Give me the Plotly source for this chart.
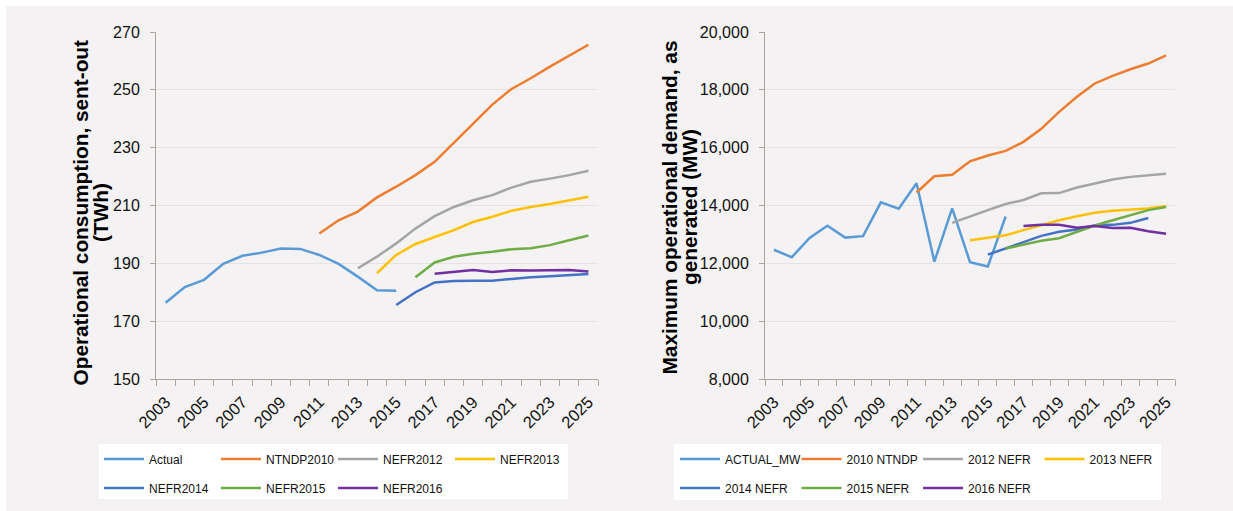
import plotly.graph_objects as go

W, H = 1233, 511

# ---------------- data (left: operational consumption, TWh) ----------------
twh_names = ["Actual", "NTNDP2010", "NEFR2012", "NEFR2013", "NEFR2014", "NEFR2015", "NEFR2016"]
twh_start = [2003, 2011, 2013, 2014, 2015, 2016, 2017]
twh_actual = [176.4, 181.8, 184.3, 189.8, 192.6, 193.7, 195.1, 195.0, 192.9, 189.8, 185.4, 180.7, 180.5]
twh_ntndp2010 = [200.3, 204.9, 207.9, 212.8, 216.5, 220.5, 225.1, 231.8, 238.4, 244.9, 250.3, 254.0, 258.0, 261.8, 265.6]
twh_nefr2012 = [188.3, 192.3, 196.9, 202.0, 206.3, 209.5, 211.8, 213.6, 216.2, 218.2, 219.3, 220.5, 222.0]
twh_nefr2013 = [186.6, 192.9, 196.7, 199.2, 201.5, 204.3, 206.1, 208.2, 209.5, 210.5, 211.8, 213.0]
twh_nefr2014 = [175.6, 180.0, 183.4, 183.9, 184.0, 184.0, 184.6, 185.2, 185.5, 186.0, 186.3]
twh_nefr2015 = [185.2, 190.3, 192.3, 193.3, 194.0, 194.9, 195.2, 196.3, 198.0, 199.6]
twh_nefr2016 = [186.4, 187.0, 187.7, 187.0, 187.6, 187.5, 187.6, 187.7, 187.2]
twh_values = [twh_actual, twh_ntndp2010, twh_nefr2012, twh_nefr2013, twh_nefr2014, twh_nefr2015, twh_nefr2016]
twh_title = ["Operational consumption, sent-out", "(TWh)"]

# ---------------- data (right: maximum operational demand, MW) ----------------
mw_names = ["ACTUAL_MW", "2010 NTNDP", "2012 NEFR", "2013 NEFR", "2014 NEFR", "2015 NEFR", "2016 NEFR"]
mw_start = [2003, 2011, 2013, 2014, 2015, 2016, 2017]
mw_actual = [12470, 12210, 12880, 13300, 12890, 12940, 14110, 13890, 14770, 12060, 13900, 12040, 11890, 13620]
mw_ntndp2010 = [14450, 15010, 15060, 15530, 15730, 15890, 16200, 16650, 17240, 17760, 18220, 18480, 18710, 18910, 19190]
mw_nefr2012 = [13400, 13630, 13840, 14050, 14190, 14420, 14430, 14620, 14760, 14900, 14990, 15050, 15100]
mw_nefr2013 = [12800, 12880, 12970, 13150, 13330, 13490, 13630, 13750, 13820, 13860, 13900, 13980]
mw_nefr2014 = [12300, 12510, 12740, 12950, 13090, 13170, 13320, 13330, 13400, 13570]
mw_nefr2015 = [12510, 12650, 12780, 12870, 13090, 13310, 13490, 13670, 13840, 13950]
mw_nefr2016 = [13290, 13330, 13330, 13230, 13290, 13220, 13230, 13110, 13020]
mw_values = [mw_actual, mw_ntndp2010, mw_nefr2012, mw_nefr2013, mw_nefr2014, mw_nefr2015, mw_nefr2016]
mw_title = ["Maximum operational demand, as", "generated (MW)"]

colors = ["#5B9BD5", "#ED7D31", "#A5A5A5", "#FFC000", "#4472C4", "#70AD47", "#7030A0"]
label_years = list(range(2003, 2026, 2))

FONT = "Liberation Sans, Arial, sans-serif"
BG = "#F4F2F3"
AXC = "#ADA59C"
GRID = "#E6E3E0"


def fx(px):
    return px / W


def fy(py):
    return 1 - py / H


fig = go.Figure()

legends_left = ["legend", "legend", "legend", "legend", "legend2", "legend2", "legend2"]
legends_right = ["legend3", "legend3", "legend3", "legend3", "legend4", "legend4", "legend4"]

for name, start, vals, col, lg in zip(twh_names, twh_start, twh_values, colors, legends_left):
    fig.add_trace(go.Scatter(
        x=list(range(start, start + len(vals))), y=vals, name=name, mode="lines",
        line=dict(color=col, width=2.5), xaxis="x", yaxis="y", legend=lg))

for name, start, vals, col, lg in zip(mw_names, mw_start, mw_values, colors, legends_right):
    fig.add_trace(go.Scatter(
        x=list(range(start, start + len(vals))), y=vals, name=name, mode="lines",
        line=dict(color=col, width=2.5), xaxis="x2", yaxis="y2", legend=lg))

ydom = [fy(379), fy(32)]

xcommon = dict(
    range=[2002.5, 2025.5], tickvals=label_years, ticktext=[str(y) for y in label_years],
    tickangle=-45, ticks="", showgrid=False, zeroline=False,
    showline=True, linecolor=AXC, linewidth=1,
    tickfont=dict(family=FONT, size=16.5, color="#111"),
    minor=dict(ticks="outside", tick0=2002.5, dtick=1, ticklen=6, tickcolor=AXC, tickwidth=1, showgrid=False),
    ticklabelstandoff=6, fixedrange=True,
)
ycommon = dict(
    showgrid=True, gridcolor=GRID, gridwidth=1, zeroline=False,
    showline=True, linecolor=AXC, linewidth=1, ticks="outside", ticklen=5, tickcolor=AXC,
    tickfont=dict(family=FONT, size=16, color="#111"), ticklabelstandoff=7, fixedrange=True,
    domain=ydom,
)

fig.update_layout(
    width=W, height=H, autosize=False,
    margin=dict(l=0, r=0, t=0, b=0, autoexpand=False),
    paper_bgcolor="white", plot_bgcolor=BG,
    showlegend=True,
    xaxis=dict(domain=[fx(156), fx(598)], anchor="y", **xcommon),
    yaxis=dict(anchor="x", range=[150, 270], tick0=150, dtick=20, **ycommon),
    xaxis2=dict(domain=[fx(765), fx(1175)], anchor="y2", **xcommon),
    yaxis2=dict(anchor="x2", range=[8000, 20000], tick0=8000, dtick=2000, tickformat=",", **ycommon),
)

leg_common = dict(orientation="h", xanchor="left", yanchor="middle", bgcolor="rgba(0,0,0,0)",
                  borderwidth=0, font=dict(family=FONT, size=12, color="#111"),
                  itemwidth=40, entrywidthmode="pixels", traceorder="normal",
                  itemclick=False, itemdoubleclick=False)
fig.update_layout(
    legend=dict(x=fx(99), y=fy(459), entrywidth=62, **leg_common),
    legend2=dict(x=fx(99), y=fy(488), entrywidth=62, **leg_common),
    legend3=dict(x=fx(675), y=fy(459), entrywidth=66.5, **leg_common),
    legend4=dict(x=fx(675), y=fy(488), entrywidth=66.5, **leg_common),
)

# axis titles (two rotated lines each, tight line spacing as in the reference)
TFONT = dict(family=FONT, size=20.8, color="#000", weight="bold")
for text, px, py in zip(twh_title + mw_title, [80.5, 101, 669, 689.5], [213, 213, 207.5, 207.5]):
    fig.add_annotation(text=text, xref="paper", yref="paper", x=fx(px), y=fy(py),
                       textangle=-90, showarrow=False, xanchor="center", yanchor="middle", font=TFONT)

# background panel and legend boxes
fig.add_shape(type="rect", xref="paper", yref="paper", x0=fx(6), x1=1, y0=0, y1=fy(6),
              fillcolor=BG, line=dict(width=0), layer="below")
fig.add_shape(type="rect", xref="paper", yref="paper", x0=fx(99), x1=fx(568), y0=fy(499), y1=fy(444),
              fillcolor="white", line=dict(width=0), layer="below")
fig.add_shape(type="rect", xref="paper", yref="paper", x0=fx(674), x1=fx(1161), y0=fy(500), y1=fy(444),
              fillcolor="white", line=dict(width=0), layer="below")

fig.write_html("out.html", config={"displayModeBar": False},
               post_script="document.body.style.margin='0';document.body.style.overflow='hidden';")
